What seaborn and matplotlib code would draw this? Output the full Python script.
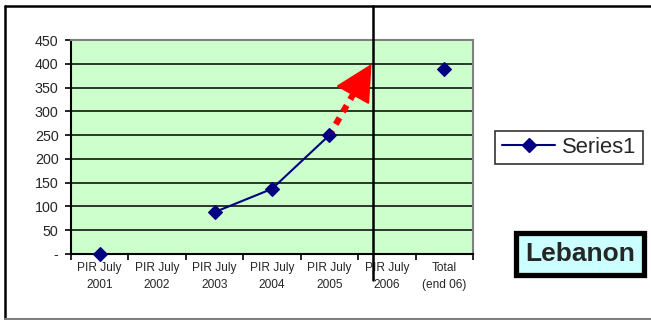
import numpy as np
import pandas as pd
import matplotlib
matplotlib.use("Agg")
import matplotlib.pyplot as plt
from matplotlib.lines import Line2D
from matplotlib.patches import Polygon
import seaborn as sns

# Reported values per reporting period (gaps = no report)
categories = ["PIR July\n2001", "PIR July\n2002", "PIR July\n2003", "PIR July\n2004",
              "PIR July\n2005", "PIR July\n2006", "Total\n(end 06)"]
values = [0, np.nan, 88, 137, 250, np.nan, 390]
y_ticks = [0, 50, 100, 150, 200, 250, 300, 350, 400, 450]
y_tick_labels = ["-", "50", "100", "150", "200", "250", "300", "350", "400", "450"]
series_name = "Series1"
country = "Lebanon"

NAVY = "#000080"
RED = "#FF0000"

sns.set_style("white")
plt.rcParams["font.family"] = ["Liberation Sans", "DejaVu Sans"]

W, H = 651, 320
fig = plt.figure(figsize=(W / 100, H / 100), dpi=100)

# plot area
ax = fig.add_axes([71 / W, (H - 254) / H, 402 / W, 214 / H])
ax.set_facecolor("#CCFFCC")

df = pd.DataFrame({"pos": np.arange(len(categories)), "value": values})
df["segment"] = df["value"].isna().cumsum()
df = df.dropna()

sns.lineplot(data=df, x="pos", y="value", units="segment", estimator=None,
             color=NAVY, linewidth=1.5, marker="D", markersize=7.5,
             markeredgecolor=NAVY, markeredgewidth=0.8, ax=ax, zorder=5,
             clip_on=False)

ax.set_xlim(-0.5, len(categories) - 0.5)
ax.set_ylim(y_ticks[0], y_ticks[-1])
ax.set_xlabel("")
ax.set_ylabel("")

# horizontal gridlines
for yv in y_ticks[1:-1]:
    ax.axhline(yv, color="black", linewidth=1.1, zorder=1)

# category ticks on boundaries, labels centred
ax.set_xticks(np.arange(-0.5, len(categories), 1.0))
ax.set_xticklabels([])
ax.set_xticks(np.arange(len(categories)), minor=True)
ax.set_xticklabels(categories, minor=True, fontsize=8.6, linespacing=1.55)
ax.tick_params(axis="x", which="major", direction="out", length=4, width=1.2,
               color="black", bottom=True)
ax.tick_params(axis="x", which="minor", length=0, pad=6)

ax.set_yticks(y_ticks)
ax.set_yticklabels(y_tick_labels, fontsize=10.3)
ax.tick_params(axis="y", direction="out", length=4, width=1.2, color="black",
               left=True, pad=5)

for side in ["top", "right"]:
    ax.spines[side].set_color("#808080")
    ax.spines[side].set_linewidth(1.5)
for side in ["left", "bottom"]:
    ax.spines[side].set_color("black")
    ax.spines[side].set_linewidth(1.5)

# red dashed trend arrow from the 2005 value
start = (4.0, 250)
tip = (4.72, 397)
base_a = (4.14, 353)
base_b = (4.68, 317)
base_mid = ((base_a[0] + base_b[0]) / 2, (base_a[1] + base_b[1]) / 2)
ax.plot([start[0], base_mid[0]], [start[1], base_mid[1]], color=RED,
        linewidth=4.5, linestyle=(0.3, (1.2, 1.1)), solid_capstyle="butt",
        dash_capstyle="butt", zorder=4)
ax.add_patch(Polygon([tip, base_a, base_b], closed=True, facecolor=RED,
                     edgecolor=RED, zorder=4))

# outer chart frame
fig.add_artist(Line2D([5 / W, 5 / W], [1 - 6 / H, 1 - 319 / H], color="black",
                      linewidth=1.8))
fig.add_artist(Line2D([5 / W, 1.0], [1 - 6 / H, 1 - 6 / H], color="black",
                      linewidth=1.8))
fig.add_artist(Line2D([5 / W, 1.0], [1 - 319 / H, 1 - 319 / H], color="#808080",
                      linewidth=1.5))

# vertical divider line
fig.add_artist(Line2D([373 / W, 373 / W], [1 - 6 / H, 1 - 280 / H], color="black",
                      linewidth=1.8, zorder=10))

# legend
handle = Line2D([], [], color=NAVY, linewidth=1.5, marker="D", markersize=7.5,
                markeredgecolor=NAVY)
leg = fig.legend([handle], [series_name], loc="center",
                 bbox_to_anchor=(569 / W, 1 - 147.5 / H), fontsize=15.8,
                 frameon=True, fancybox=False, handlelength=2.45,
                 handletextpad=0.3, borderpad=0.28, borderaxespad=0)
leg.get_frame().set_edgecolor("black")
leg.get_frame().set_linewidth(1.2)

# country label
fig.text(580 / W, 1 - 254 / H, country, ha="center", va="center",
         fontsize=19, fontweight="bold",
         bbox=dict(boxstyle="square,pad=0.34", facecolor="#CCFFFF",
                   edgecolor="black", linewidth=3.8))

fig.savefig("out.png", dpi=100)
